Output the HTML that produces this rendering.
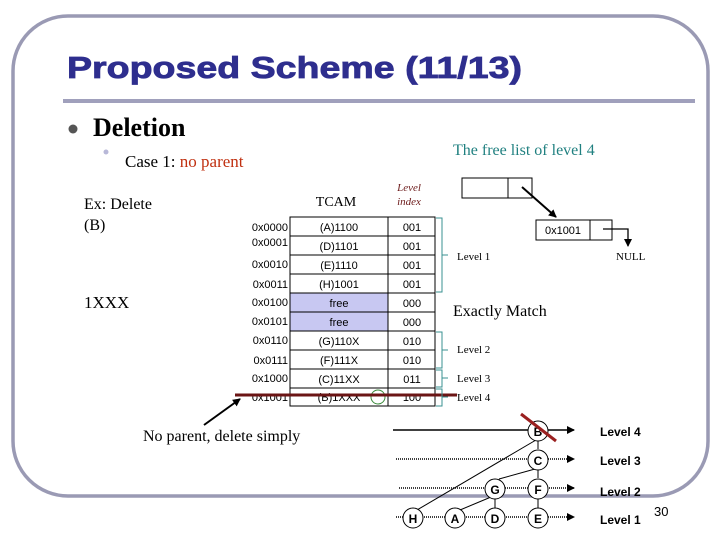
<!DOCTYPE html>
<html><head><meta charset="utf-8"><style>
body{margin:0;background:#fff;}
svg{display:block}
</style></head><body>
<svg width="720" height="540" viewBox="0 0 720 540" xmlns="http://www.w3.org/2000/svg" font-family="Liberation Sans, sans-serif">
<defs>
<marker id="ah" markerWidth="8" markerHeight="8" refX="7" refY="4" orient="auto" markerUnits="userSpaceOnUse"><path d="M0,0 L8,4 L0,8 z" fill="#000"/></marker>
</defs>
<rect x="13" y="16" width="695" height="480" rx="55" fill="none" stroke="#9a9ab4" stroke-width="3.5"/>
<text x="67" y="78" font-size="31" font-weight="bold" fill="#2e2e8e" textLength="455" lengthAdjust="spacingAndGlyphs" stroke="#2e2e8e" stroke-width="0.8">Proposed Scheme (11/13)</text>
<line x1="63" y1="101" x2="695" y2="101" stroke="#a0a0bc" stroke-width="4"/>
<circle cx="73" cy="129" r="4.5" fill="#555"/>
<text x="93" y="136" font-family="Liberation Serif, serif" font-size="26" font-weight="bold">Deletion</text>
<circle cx="106" cy="152" r="2.5" fill="#b8b8d8"/>
<text x="125" y="167" font-family="Liberation Serif, serif" font-size="17">Case 1: <tspan fill="#c03010">no parent</tspan></text>
<text x="453" y="155" font-family="Liberation Serif, serif" font-size="16" fill="#208080">The free list of level 4</text>
<text x="84" y="209" font-family="Liberation Serif, serif" font-size="16">Ex: Delete</text>
<text x="84" y="230" font-family="Liberation Serif, serif" font-size="16">(B)</text>
<text x="84" y="308" font-family="Liberation Serif, serif" font-size="17">1XXX</text>
<text x="336" y="206" font-family="Liberation Serif, serif" font-size="14" text-anchor="middle">TCAM</text>
<text x="409" y="191" font-family="Liberation Serif, serif" font-size="11" font-style="italic" fill="#702020" text-anchor="middle">Level</text>
<text x="409" y="205" font-family="Liberation Serif, serif" font-size="11" font-style="italic" fill="#702020" text-anchor="middle">index</text>
<rect x="290" y="293" width="98" height="38" fill="#c8c8f2"/>
<g stroke="#000" stroke-width="1" fill="none">
<rect x="290" y="217" width="145" height="189"/>
<line x1="388" y1="217" x2="388" y2="406"/>
<line x1="290" y1="236" x2="435" y2="236"/><line x1="290" y1="255" x2="435" y2="255"/>
<line x1="290" y1="274" x2="435" y2="274"/><line x1="290" y1="293" x2="435" y2="293"/>
<line x1="290" y1="312" x2="435" y2="312"/><line x1="290" y1="331" x2="435" y2="331"/>
<line x1="290" y1="350" x2="435" y2="350"/><line x1="290" y1="369" x2="435" y2="369"/>
<line x1="290" y1="388" x2="435" y2="388"/>
</g>
<g font-size="11" text-anchor="end">
<text x="288" y="231">0x0000</text><text x="288" y="246">0x0001</text><text x="288" y="268">0x0010</text>
<text x="288" y="288">0x0011</text><text x="288" y="306">0x0100</text><text x="288" y="325">0x0101</text>
<text x="288" y="344">0x0110</text><text x="288" y="364">0x0111</text><text x="288" y="382">0x1000</text>
<text x="288" y="401">0x1001</text>
</g>
<g font-size="11" text-anchor="middle">
<text x="339" y="231">(A)1100</text><text x="339" y="250">(D)1101</text><text x="339" y="269">(E)1110</text>
<text x="339" y="288">(H)1001</text><text x="339" y="307">free</text><text x="339" y="326">free</text>
<text x="339" y="345">(G)110X</text><text x="339" y="364">(F)111X</text><text x="339" y="383">(C)11XX</text>
<text x="339" y="401">(B)1XXX</text>
<text x="412" y="231">001</text><text x="412" y="250">001</text><text x="412" y="269">001</text>
<text x="412" y="288">001</text><text x="412" y="307">000</text><text x="412" y="326">000</text>
<text x="412" y="345">010</text><text x="412" y="364">010</text><text x="412" y="383">011</text>
<text x="412" y="401">100</text>
</g>
<circle cx="378" cy="397" r="7" fill="none" stroke="#3a8a3a"/>
<line x1="235" y1="395" x2="457" y2="395" stroke="#6b1515" stroke-width="3"/>
<g stroke="#3a9090" fill="none" stroke-width="1">
<path d="M436,218 H442 V292 H436 M442,255 H448"/>
<path d="M436,332 H442 V368 H436 M442,350 H448"/>
<path d="M436,370 H442 V387 H436 M442,378 H448"/>
<path d="M436,389 H442 V406 H436 M442,397 H448"/>
</g>
<g font-family="Liberation Serif, serif" font-size="11">
<text x="457" y="260">Level 1</text><text x="457" y="353">Level 2</text>
<text x="457" y="382">Level 3</text><text x="457" y="401">Level 4</text>
<text x="616" y="260">NULL</text>
</g>
<text x="453" y="316" font-family="Liberation Serif, serif" font-size="16">Exactly Match</text>
<g stroke="#000" fill="none">
<rect x="462" y="178" width="70" height="20"/><line x1="508" y1="178" x2="508" y2="198"/>
<rect x="536" y="220" width="76" height="20"/><line x1="590" y1="220" x2="590" y2="240"/>
</g>
<line x1="522" y1="187" x2="556" y2="217" stroke="#000" stroke-width="2" marker-end="url(#ah)"/>
<path d="M603,229 H628 V246" stroke="#000" stroke-width="1.3" fill="none" marker-end="url(#ah)"/>
<text x="563" y="234" font-size="11" text-anchor="middle">0x1001</text>
<text x="143" y="441" font-family="Liberation Serif, serif" font-size="16">No parent, delete simply</text>
<line x1="204" y1="425" x2="240" y2="399" stroke="#000" stroke-width="2" marker-end="url(#ah)"/>
<line x1="393" y1="430" x2="574" y2="430" stroke="#000" stroke-width="1.5" marker-end="url(#ah)"/>
<g stroke="#000" stroke-width="1.5" stroke-dasharray="1,1">
<line x1="396" y1="459" x2="574" y2="459" marker-end="url(#ah)"/>
<line x1="399" y1="488" x2="574" y2="488" marker-end="url(#ah)"/>
<line x1="396" y1="517" x2="574" y2="517" marker-end="url(#ah)"/>
</g>
<g stroke="#000" fill="none" stroke-width="1">
<line x1="538" y1="440" x2="538" y2="449"/><line x1="538" y1="469" x2="538" y2="478"/>
<line x1="538" y1="498" x2="538" y2="508"/><line x1="495" y1="498" x2="495" y2="508"/>
<line x1="536" y1="440" x2="417" y2="510"/>
<line x1="535" y1="469" x2="499" y2="479"/>
<line x1="491" y1="497" x2="460" y2="510"/>
</g>
<g stroke="#000" fill="#fff">
<circle cx="538" cy="431" r="10"/><circle cx="538" cy="460" r="10"/>
<circle cx="495" cy="489" r="10"/><circle cx="538" cy="489" r="10"/>
<circle cx="413" cy="518" r="10"/><circle cx="455" cy="518" r="10"/>
<circle cx="495" cy="518" r="10"/><circle cx="538" cy="518" r="10"/>
</g>
<g font-size="12" font-weight="bold" text-anchor="middle">
<text x="538" y="436">B</text><text x="538" y="465">C</text><text x="495" y="494">G</text>
<text x="538" y="494">F</text><text x="413" y="523">H</text><text x="455" y="523">A</text>
<text x="495" y="523">D</text><text x="538" y="523">E</text>
</g>
<line x1="521" y1="414" x2="556" y2="441" stroke="#9a2020" stroke-width="3"/>
<g font-size="12" font-weight="bold">
<text x="600" y="436">Level 4</text><text x="600" y="465">Level 3</text>
<text x="600" y="496">Level 2</text><text x="600" y="524">Level 1</text>
</g>
<text x="654" y="516" font-size="13">30</text>
</svg>
</body></html>
